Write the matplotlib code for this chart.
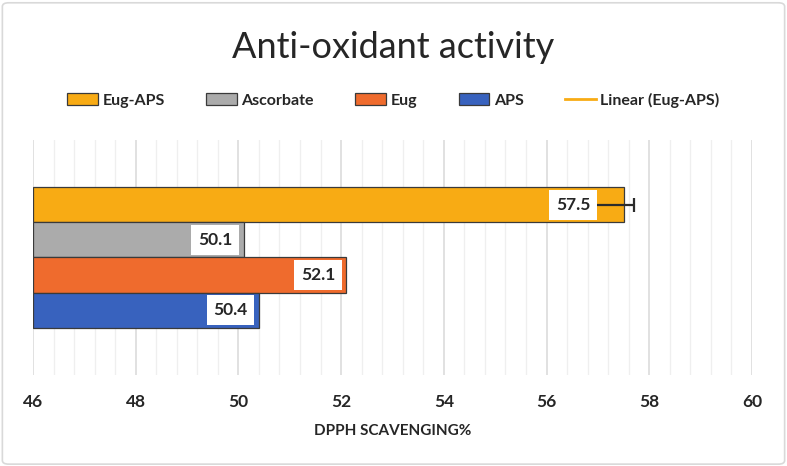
import numpy as np
import matplotlib.pyplot as plt
from matplotlib.lines import Line2D
from matplotlib.patches import FancyBboxPatch
from matplotlib.ticker import MultipleLocator

title = "Anti-oxidant activity"
series = ["Eug-APS", "Ascorbate", "Eug", "APS"]
values = [57.5, 50.1, 52.1, 50.4]
err_minus = [0.6, 0, 0, 0]
err_plus = [0.2, 0, 0, 0]
colors = ["#F8AB14", "#ABABAB", "#EF6B2D", "#3862BE"]
trend_label = "Linear (Eug-APS)"
xlabel = "DPPH SCAVENGING%"

plt.rcParams['font.family'] = ['Lato', 'DejaVu Sans']

fig = plt.figure(figsize=(7.87, 4.66), dpi=100)
fig.patches.append(FancyBboxPatch((0.003, 0.004), 0.994, 0.99, boxstyle="round,pad=0,rounding_size=0.008",
                                  transform=fig.transFigure, fc="white", ec="#D9D9D9", lw=1.2, zorder=-10))
ax = fig.add_axes([0.0419, 0.1953, 0.9136, 0.5043])
ax.set_facecolor("none")

h = 0.149
ys = [1.5 * h, 0.5 * h, -0.5 * h, -1.5 * h]
for name, v, c, y in zip(series, values, colors, ys):
    ax.barh(y, v - 46, left=46, height=h, color=c, edgecolor="#3A3A3A", lw=0.9, label=name, zorder=2)

# error bar on Eug-APS
ax.errorbar(values[0], ys[0], xerr=[[err_minus[0]], [err_plus[0]]], fmt="none",
            ecolor="#2B2B2B", elinewidth=1.6, capsize=5, capthick=1.6, zorder=3)

offsets = [-24, -8, -8, -8]
for v, y, off in zip(values, ys, offsets):
    ax.annotate(f"{v:.1f}", (v, y), xytext=(off, 0), textcoords="offset points",
                ha="right", va="center", fontsize=12.5, fontweight="bold", color="#262626",
                bbox=dict(boxstyle="square,pad=0.38", fc="white", ec="none"), zorder=5)

ax.set_xlim(46, 60)
ax.set_ylim(-0.5, 0.5)
ax.xaxis.set_major_locator(MultipleLocator(2))
ax.xaxis.set_minor_locator(MultipleLocator(0.4))
ax.grid(axis="x", which="major", color="#D9D9D9", lw=1.1, zorder=0)
ax.grid(axis="x", which="minor", color="#EFEFEF", lw=0.9, zorder=0)
ax.set_yticks([])
for s in ax.spines.values():
    s.set_visible(False)
ax.tick_params(axis="x", which="both", length=0, pad=14, labelsize=12.5, labelcolor="#262626")
for t in ax.get_xticklabels():
    t.set_fontweight("bold")
ax.set_xlabel(xlabel, fontsize=11, fontweight="bold", color="#262626", labelpad=10)

fig.text(0.5, 0.897, title, ha="center", va="center", fontsize=26, color="#262626")

handles, labels = ax.get_legend_handles_labels()
handles.append(Line2D([0], [0], color="#F8AB14", lw=2))
labels.append(trend_label)
fig.legend(handles, labels, loc="center", bbox_to_anchor=(0.5, 0.785), ncol=5, frameon=False,
           prop={"size": 11.5, "weight": "bold"}, handlelength=1.9, handleheight=0.75,
           handletextpad=0.3, columnspacing=2.6, labelcolor="#262626")

fig.savefig("out.png", dpi=100)
